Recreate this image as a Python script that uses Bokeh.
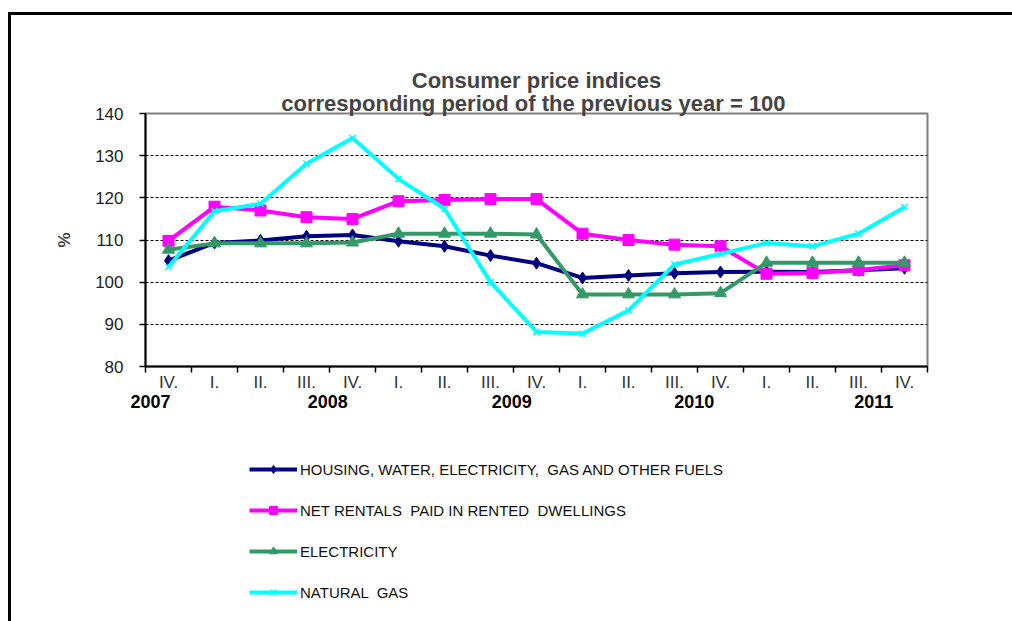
from bokeh.plotting import figure
from bokeh.layouts import column
from bokeh.models import (LinearAxis, FixedTicker, Range1d, Legend, LegendItem, Title)
from bokeh.embed import file_html
from bokeh.resources import INLINE

# ---------------- data ----------------
quarters = ["IV.", "I.", "II.", "III.", "IV.", "I.", "II.", "III.", "IV.",
            "I.", "II.", "III.", "IV.", "I.", "II.", "III.", "IV."]
years = ["2007", "2008", "2009", "2010", "2011"]
housing = [105.1, 109.3, 109.9, 110.9, 111.2, 109.7, 108.5, 106.3, 104.5,
           101.0, 101.6, 102.1, 102.4, 102.5, 102.4, 102.8, 103.3]
rentals = [109.8, 117.9, 117.0, 115.4, 115.0, 119.2, 119.5, 119.7, 119.7,
           111.5, 110.0, 108.9, 108.5, 102.0, 102.2, 102.9, 104.0]
electricity = [107.7, 109.2, 109.2, 109.2, 109.4, 111.5, 111.5, 111.5, 111.3,
               97.1, 97.1, 97.1, 97.4, 104.6, 104.6, 104.6, 104.6]
natural_gas = [103.6, 116.8, 118.6, 128.1, 134.2, 124.5, 117.4, 100.0, 88.2,
               87.8, 93.3, 104.2, 106.7, 109.3, 108.5, 111.5, 117.8]
series_names = ["HOUSING, WATER, ELECTRICITY,  GAS AND OTHER FUELS",
                "NET RENTALS  PAID IN RENTED  DWELLINGS",
                "ELECTRICITY",
                "NATURAL  GAS"]
y_ticks = [80, 90, 100, 110, 120, 130, 140]

# ---------------- layout constants ----------------
FONT = "Liberation Sans"
year_label_pos = [-0.39, 3.46, 7.46, 11.43, 15.33]
x = list(range(len(quarters)))
styles = [
    dict(color="#000080", marker="diamond", size=12),
    dict(color="#FF00FF", marker="square", size=11),
    dict(color="#339966", marker="triangle", size=12),
    dict(color="#00FFFF", marker="x", size=9),
]
series = [housing, rentals, electricity, natural_gas]

p = figure(frame_width=782, frame_height=253, output_backend="svg", toolbar_location=None,
           x_range=Range1d(-0.5, len(quarters) - 0.5), y_range=Range1d(80, 140),
           min_border_left=134, min_border_right=85, min_border_top=98,
           min_border_bottom=60, title="Consumer price indices")
p.background_fill_color = "white"
p.border_fill_color = "white"
p.outline_line_color = "#808080"
p.outline_line_width = 2

# titles
p.title.text_font = FONT
p.title.text_font_size = "22px"
p.title.text_font_style = "bold"
p.title.align = "center"
p.title.standoff = -4
sub = Title(text="corresponding period of the previous year =  100", align="center",
            text_font=FONT, text_font_size="22px", text_font_style="bold", standoff=-4)
p.add_layout(sub, "above")

# y axis
ya = p.yaxis[0]
ya.ticker = FixedTicker(ticks=y_ticks)
ya.axis_line_color = "black"
ya.axis_line_width = 2
ya.major_tick_line_color = "black"
ya.major_tick_line_width = 1.5
ya.major_tick_out = 6
ya.major_tick_in = 0
ya.minor_tick_line_color = None
ya.major_label_standoff = 16
ya.major_label_text_font = FONT
ya.major_label_text_font_size = "17px"
ya.major_label_text_color = "#222222"
ya.axis_label = "%"
ya.axis_label_text_font = FONT
ya.axis_label_text_font_size = "17px"
ya.axis_label_text_font_style = "bold"
ya.axis_label_standoff = 18

# x axis (quarters)
xa = p.xaxis[0]
xa.ticker = FixedTicker(ticks=x, minor_ticks=[i - 0.5 for i in range(len(quarters) + 1)])
xa.major_label_overrides = {i: q for i, q in enumerate(quarters)}
xa.axis_line_color = "black"
xa.axis_line_width = 2
xa.major_tick_line_color = None
xa.minor_tick_line_color = "black"
xa.minor_tick_line_width = 1.5
xa.minor_tick_out = 6
xa.minor_tick_in = 0
xa.major_label_standoff = 0
xa.major_label_text_font = FONT
xa.major_label_text_font_size = "17px"
xa.major_label_text_color = "#333333"

# year axis
year_axis = LinearAxis(ticker=FixedTicker(ticks=year_label_pos),
                       major_label_overrides={pos: y for pos, y in zip(year_label_pos, years)},
                       axis_line_color=None, major_tick_line_color=None,
                       minor_tick_line_color=None, major_label_standoff=-6,
                       major_label_text_font=FONT, major_label_text_font_size="18px",
                       major_label_text_font_style="bold", major_label_text_color="black")
p.add_layout(year_axis, "below")

# grid
p.xgrid.visible = False
p.ygrid.ticker = FixedTicker(ticks=y_ticks[1:-1])
p.ygrid.grid_line_color = "black"
p.ygrid.grid_line_dash = "3 2"
p.ygrid.grid_line_width = 1

# series in the chart
for vals, st in zip(series, styles):
    p.line(x, vals, line_color=st["color"], line_width=4)
    if st["marker"] == "x":
        p.scatter(x, vals, marker="x", size=st["size"], line_color=st["color"], line_width=1.5)
    else:
        p.scatter(x, vals, marker=st["marker"], size=st["size"], color=st["color"])

# legend panel below the chart (its own plot, series kept outside its visible range)
p2 = figure(width=1001, height=195, output_backend="svg", toolbar_location=None,
            x_axis_type=None, y_axis_type=None, min_border=0,
            x_range=Range1d(1000, 1001), y_range=Range1d(0, 1))
p2.outline_line_color = None
p2.background_fill_color = "white"
p2.border_fill_color = "white"
items = []
for name, vals, st in zip(series_names, series, styles):
    lr = p2.line(x, vals, line_color=st["color"], line_width=4)
    if st["marker"] == "x":
        sr = p2.scatter(x, vals, marker="x", size=st["size"], line_color=st["color"], line_width=1.5)
    else:
        sr = p2.scatter(x, vals, marker=st["marker"], size=st["size"] - 4, color=st["color"])
    items.append(LegendItem(label=name, renderers=[lr, sr]))

legend = Legend(items=items, location=(104, 19), orientation="vertical",
                glyph_width=48, glyph_height=20, label_height=20, spacing=21,
                padding=5, margin=0, label_standoff=3,
                label_text_font=FONT, label_text_font_size="15px",
                label_text_color="#111111",
                border_line_color=None, background_fill_alpha=0)
p2.add_layout(legend)

layout = column(p, p2, spacing=0)
layout.styles = {"border-left": "3px solid black", "border-top": "3px solid black",
                 "margin-left": "8px", "margin-top": "12px"}

open("out.html", "w").write(file_html(layout, INLINE))
